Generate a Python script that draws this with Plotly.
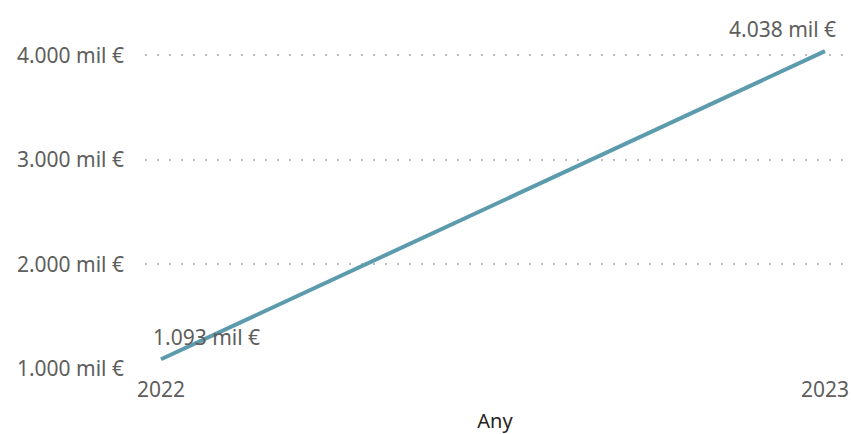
import plotly.graph_objects as go

years = [2022, 2023]
values = [1093, 4038]
y_ticks = [1000, 2000, 3000, 4000]
x_title = "Any"

def fmt(v):
    return f"{v:,.0f}".replace(",", ".") + " mil €"

FONT = "Noto Sans"
GREY = "#605e5c"

fig = go.Figure()
fig.add_trace(go.Scatter(
    x=years, y=values, mode="lines",
    line=dict(color="#5b9bad", width=4),
    hoverinfo="skip",
))

label_shift = [45, -43]
for x, v, dx in zip(years, values, label_shift):
    fig.add_annotation(
        x=x, y=v, text=fmt(v), showarrow=False,
        xanchor="center", yanchor="middle", xshift=dx, yshift=22,
        font=dict(family=FONT, size=21, color=GREY),
    )

fig.update_layout(
    width=851, height=434,
    margin=dict(l=145, r=6, t=29, b=65, autoexpand=False),
    paper_bgcolor="white", plot_bgcolor="white",
    showlegend=False,
    font=dict(family=FONT, color=GREY),
    xaxis=dict(
        range=[2021.9759, 2023.0301],
        tickvals=years, ticktext=[str(y) for y in years],
        showgrid=False, zeroline=False, showline=False,
        automargin=False,
        tickfont=dict(size=21, color=GREY),
        ticklabelstandoff=6,
        title=dict(text=x_title, font=dict(size=20, color="#252423"), standoff=19),
    ),
    yaxis=dict(
        range=[1000, 4250],
        tickvals=y_ticks, ticktext=[fmt(v) for v in y_ticks],
        showgrid=True, gridcolor="#bdbdbd", griddash="2px,10px", gridwidth=2,
        zeroline=False, showline=False,
        automargin=False,
        tickfont=dict(size=21, color=GREY),
        ticklabelstandoff=20,
    ),
)
fig.write_html(
    "out.html",
    config={"displayModeBar": False},
    post_script="document.body.style.margin='0px';document.body.style.overflow='hidden';",
)
